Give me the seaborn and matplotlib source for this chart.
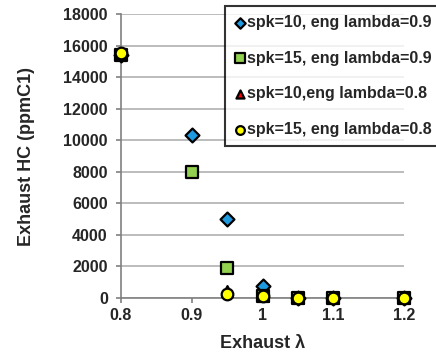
import matplotlib
matplotlib.use("Agg")
import matplotlib.pyplot as plt
import seaborn as sns
import pandas as pd

sns.set_theme(style="white")
plt.rcParams["font.family"] = ["Liberation Sans", "DejaVu Sans"]
plt.rcParams["font.weight"] = "bold"

exhaust_lambda = [0.8, 0.9, 0.95, 1.0, 1.05, 1.1, 1.2]
series_names = [
    "spk=10, eng lambda=0.9",
    "spk=15, eng lambda=0.9",
    "spk=10,eng lambda=0.8",
    "spk=15, eng lambda=0.8",
]
hc_spk10_eng09 = [15400, 10300, 5000, 750, 30, 20, 20]
hc_spk15_eng09 = [15400, 8000, 1900, 150, 20, 10, 10]
hc_spk10_eng08 = [15500, None, 450, 150, 20, 10, 10]
hc_spk15_eng08 = [15500, None, 250, 150, 20, 10, 10]
y_ticks = [0, 2000, 4000, 6000, 8000, 10000, 12000, 14000, 16000, 18000]
x_ticks = [0.8, 0.9, 1.0, 1.1, 1.2]
x_tick_labels = ["0.8", "0.9", "1", "1.1", "1.2"]

rows = []
for name, vals in zip(series_names,
                      [hc_spk10_eng09, hc_spk15_eng09, hc_spk10_eng08, hc_spk15_eng08]):
    for lam, v in zip(exhaust_lambda, vals):
        if v is not None:
            rows.append({"lambda": lam, "hc": v, "series": name})
df = pd.DataFrame(rows)

palette = dict(zip(series_names, ["#1E9BE0", "#92D050", "#FF0000", "#FFFF00"]))
markers = dict(zip(series_names, ["D", "s", "^", "o"]))
sizes = dict(zip(series_names, [50, 80, 60, 70]))

fig = plt.figure(figsize=(4.36, 3.56), dpi=100)
ax = fig.add_axes([121 / 436, 1 - 298 / 356, (404 - 121) / 436, (298 - 14) / 356])
ax.set_axisbelow(True)

for name in series_names:
    sub = df[df["series"] == name]
    sns.scatterplot(data=sub, x="lambda", y="hc", ax=ax, color=palette[name],
                    marker=markers[name], s=sizes[name], edgecolor="black",
                    linewidth=1.6, label=name, clip_on=False, zorder=3)

ax.set_xlim(0.8, 1.2)
ax.set_ylim(0, 18000)
ax.set_yticks(y_ticks)
ax.set_xticks(x_ticks)
ax.set_xticklabels(x_tick_labels)
ax.yaxis.grid(True, color="#b0b0b0", linewidth=1.2)
ax.xaxis.grid(False)
for side in ["top", "right"]:
    ax.spines[side].set_visible(False)
for side in ["left", "bottom"]:
    ax.spines[side].set_color("#808080")
    ax.spines[side].set_linewidth(1.2)
ax.tick_params(axis="both", which="major", direction="out", length=3.5, width=1.2,
               color="#808080", labelsize=11.5, bottom=True, left=True)
ax.tick_params(axis="y", pad=6)
ax.tick_params(axis="x", pad=4)
for lbl in ax.get_xticklabels() + ax.get_yticklabels():
    lbl.set_fontweight("bold")

ax.set_xlabel("Exhaust λ", fontsize=13, fontweight="bold", labelpad=8)
ax.set_ylabel("Exhaust HC (ppmC1)", fontsize=13, fontweight="bold", labelpad=20)

leg = ax.legend(loc="upper left", bbox_to_anchor=(225 / 436, 1 - 6 / 356),
                bbox_transform=fig.transFigure, frameon=True, fancybox=False,
                edgecolor="black", fontsize=11.5, handletextpad=0.05,
                handlelength=0.8, labelspacing=1.3, borderpad=0.55,
                borderaxespad=0, markerscale=0.75)
leg.get_frame().set_linewidth(1.5)
leg.set_zorder(5)
for t in leg.get_texts():
    t.set_fontweight("bold")

fig.savefig("out.png", dpi=100)
